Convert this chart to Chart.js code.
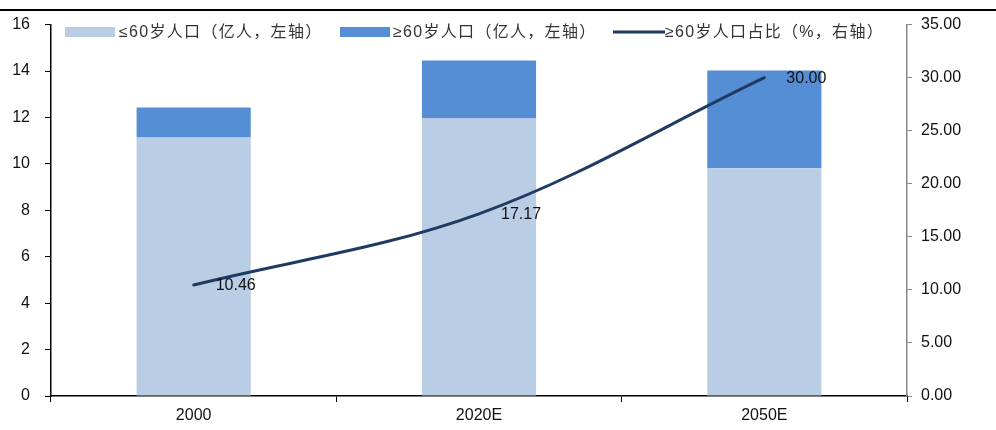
<!DOCTYPE html>
<html>
<head>
<meta charset="utf-8">
<script src="https://cdn.jsdelivr.net/npm/chart.js@4.4.1/dist/chart.umd.min.js"></script>
<style>
html,body{margin:0;padding:0;background:#fff;}
#wrap{width:996px;height:430px;position:relative;}
</style>
</head>
<body>
<div id="wrap"><canvas id="c" width="996" height="430"></canvas></div>
<script>
const categories = ['2000', '2020E', '2050E'];
const under60 = [11.14, 11.96, 9.81];
const over60 = [1.29, 2.49, 4.21];
const over60Share = [10.46, 17.17, 30.00];
const seriesNames = ['≤60岁人口（亿人，左轴）', '≥60岁人口（亿人，左轴）', '≥60岁人口占比（%，右轴）'];

const COL_LIGHT = '#b9cde5';
const COL_DARK = '#558ed5';
const COL_LINE = '#1f3b64';
const NUM_FONT = '"Liberation Sans", Arial, sans-serif';
const CJK_FONT = '"Liberation Sans", "Noto Sans CJK SC", sans-serif';

const extras = {
  id: 'extras',
  afterDraw(chart) {
    const ctx = chart.ctx;
    ctx.save();
    // top rule
    ctx.fillStyle = '#000';
    ctx.fillRect(0, 9, 996, 2);
    // legend
    ctx.font = '16px ' + CJK_FONT;
    try { ctx.letterSpacing = '1.3px'; } catch (e) {}
    ctx.textBaseline = 'middle';
    ctx.fillStyle = COL_LIGHT; ctx.fillRect(65, 27, 50, 10);
    ctx.fillStyle = '#333'; ctx.fillText(seriesNames[0], 119, 33);
    ctx.fillStyle = COL_DARK; ctx.fillRect(340, 27, 50, 10);
    ctx.fillStyle = '#333'; ctx.fillText(seriesNames[1], 393, 33);
    ctx.strokeStyle = COL_LINE; ctx.lineWidth = 3;
    ctx.beginPath(); ctx.moveTo(613, 32); ctx.lineTo(665, 32); ctx.stroke();
    ctx.fillStyle = '#333'; ctx.fillText(seriesNames[2], 665, 33);
    try { ctx.letterSpacing = '0px'; } catch (e) {}
    // data labels
    const meta = chart.getDatasetMeta(2);
    ctx.font = '16px ' + NUM_FONT;
    ctx.fillStyle = '#111';
    ctx.textAlign = 'left';
    meta.data.forEach((pt, i) => {
      ctx.fillText(over60Share[i].toFixed(2), pt.x + 22, pt.y + 1);
    });
    ctx.restore();
  }
};

new Chart(document.getElementById('c'), {
  data: {
    labels: categories,
    datasets: [
      { type: 'bar', label: seriesNames[0], data: under60, backgroundColor: COL_LIGHT, yAxisID: 'y', stack: 's', order: 1, barPercentage: 0.4, categoryPercentage: 1 },
      { type: 'bar', label: seriesNames[1], data: over60, backgroundColor: COL_DARK, yAxisID: 'y', stack: 's', order: 1, barPercentage: 0.4, categoryPercentage: 1 },
      { type: 'line', label: seriesNames[2], data: over60Share, borderColor: COL_LINE, borderWidth: 3, pointRadius: 0, tension: 0.35, yAxisID: 'y1', order: 0, borderCapStyle: 'round' }
    ]
  },
  options: {
    responsive: false,
    animation: false,
    layout: { padding: { top: 24, left: 0, right: 0, bottom: 0 } },
    plugins: { legend: { display: false }, tooltip: { enabled: false } },
    scales: {
      x: {
        stacked: true,
        grid: { offset: true, drawOnChartArea: false, drawTicks: true, tickLength: 6, color: '#000' },
        border: { color: '#000', width: 1.5 },
        ticks: { color: '#111', font: { family: NUM_FONT, size: 16 }, padding: 4 },
        afterFit: s => { s.height = 34; }
      },
      y: {
        position: 'left', stacked: true, min: 0, max: 16,
        grid: { drawOnChartArea: false, drawTicks: true, tickLength: 6, color: '#000' },
        border: { color: '#000', width: 1.5 },
        ticks: { stepSize: 2, color: '#111', font: { family: NUM_FONT, size: 16 }, padding: 15 },
        afterFit: s => { s.width = 51; }
      },
      y1: {
        position: 'right', min: 0, max: 35,
        grid: { drawOnChartArea: false, drawTicks: true, tickLength: 5, color: '#888' },
        border: { color: '#888', width: 1.5 },
        ticks: { stepSize: 5, color: '#111', font: { family: NUM_FONT, size: 16 }, padding: 9, callback: v => Number(v).toFixed(2) },
        afterFit: s => { s.width = 89; }
      }
    }
  },
  plugins: [extras]
});
</script>
</body>
</html>
